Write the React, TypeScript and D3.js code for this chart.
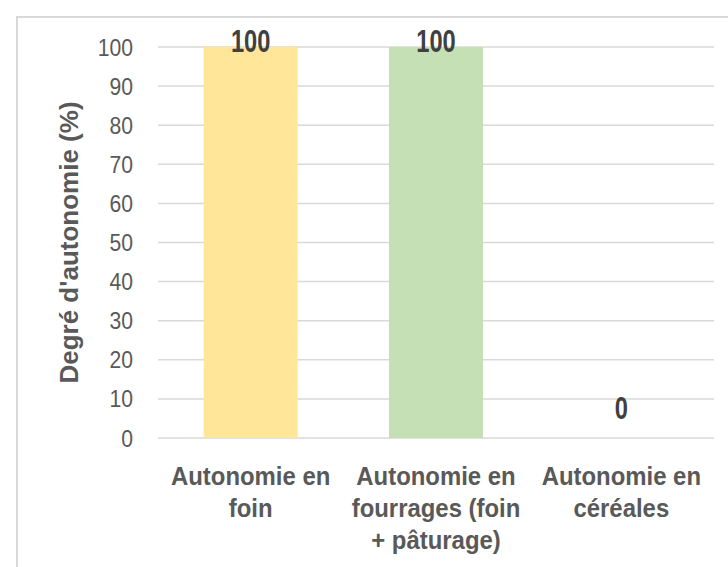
import React, { useRef, useEffect } from 'react';
import * as d3 from 'd3';

const categories = [
  ['Autonomie en', 'foin'],
  ['Autonomie en', 'fourrages (foin', '+ pâturage)'],
  ['Autonomie en', 'céréales'],
];
const values = [100, 100, 0];
const barColors = ['#FFE699', '#C5E0B4', '#A9D18E'];
const yTicks = [0, 10, 20, 30, 40, 50, 60, 70, 80, 90, 100];

const W = 728;
const H = 567;
const margin = { top: 47, right: 14, bottom: 129, left: 158 };

const App = () => {
  const ref = useRef<SVGSVGElement | null>(null);

  useEffect(() => {
    if (!ref.current) return;
    const svg = d3.select(ref.current);
    svg.selectAll('*').remove();

    const font = '"Liberation Sans", Arial, sans-serif';

    // chart area frame
    svg.append('rect')
      .attr('x', 17)
      .attr('y', 17)
      .attr('width', W)
      .attr('height', H)
      .attr('fill', 'white')
      .attr('stroke', '#D9D9D9')
      .attr('stroke-width', 2);

    const x = d3.scaleBand<number>()
      .domain(values.map((_, i) => i))
      .range([margin.left, W - margin.right])
      .paddingInner(0.493)
      .paddingOuter(0.2465);

    const y = d3.scaleLinear()
      .domain([0, 100])
      .range([H - margin.bottom, margin.top]);

    // gridlines
    svg.append('g')
      .selectAll('line')
      .data(yTicks)
      .enter()
      .append('line')
      .attr('x1', margin.left)
      .attr('x2', W - margin.right)
      .attr('y1', d => y(d))
      .attr('y2', d => y(d))
      .attr('stroke', '#D9D9D9')
      .attr('stroke-width', 1.5);

    // tick labels
    svg.append('g')
      .selectAll('text')
      .data(yTicks)
      .enter()
      .append('text')
      .attr('transform', d => `translate(133, ${y(d) + 8.5}) scale(0.88, 1)`)
      .attr('text-anchor', 'end')
      .attr('font-family', font)
      .attr('font-size', '24px')
      .attr('fill', '#595959')
      .text(d => d);

    // bars
    svg.append('g')
      .selectAll('rect')
      .data(values)
      .enter()
      .append('rect')
      .attr('x', (_, i) => x(i) as number)
      .attr('y', d => y(d))
      .attr('width', x.bandwidth())
      .attr('height', d => y(0) - y(d))
      .attr('fill', (_, i) => barColors[i]);

    // data labels
    svg.append('g')
      .selectAll('text')
      .data(values)
      .enter()
      .append('text')
      .attr('transform', (d, i) => {
        const cx = (x(i) as number) + x.bandwidth() / 2;
        const cy = Math.max(y(d) - 19, margin.top + 5);
        return `translate(${cx}, ${cy}) scale(0.74, 1)`;
      })
      .attr('text-anchor', 'middle')
      .attr('font-family', font)
      .attr('font-weight', 'bold')
      .attr('font-size', '32px')
      .attr('fill', '#404040')
      .text(d => d);

    // category labels
    const cat = svg.append('g')
      .selectAll('g')
      .data(categories)
      .enter()
      .append('g')
      .attr('transform', (_, i) => `translate(${(x(i) as number) + x.bandwidth() / 2}, 0)`);

    cat.selectAll('text')
      .data(d => d)
      .enter()
      .append('text')
      .attr('transform', (_, j) => `translate(0, ${485 + j * 32}) scale(0.92, 1)`)
      .attr('text-anchor', 'middle')
      .attr('font-family', font)
      .attr('font-weight', 'bold')
      .attr('font-size', '26px')
      .attr('fill', '#595959')
      .text(d => d);

    // y axis title
    svg.append('text')
      .attr('transform', `translate(78, ${(y(0) + y(100)) / 2}) rotate(-90)`)
      .attr('text-anchor', 'middle')
      .attr('font-family', font)
      .attr('font-weight', 'bold')
      .attr('font-size', '26px')
      .attr('fill', '#595959')
      .text("Degré d'autonomie (%)");
  }, []);

  return (
    <svg ref={ref} width={W} height={H} style={{ position: 'absolute', left: 0, top: 0 }}></svg>
  );
};

export default App;
